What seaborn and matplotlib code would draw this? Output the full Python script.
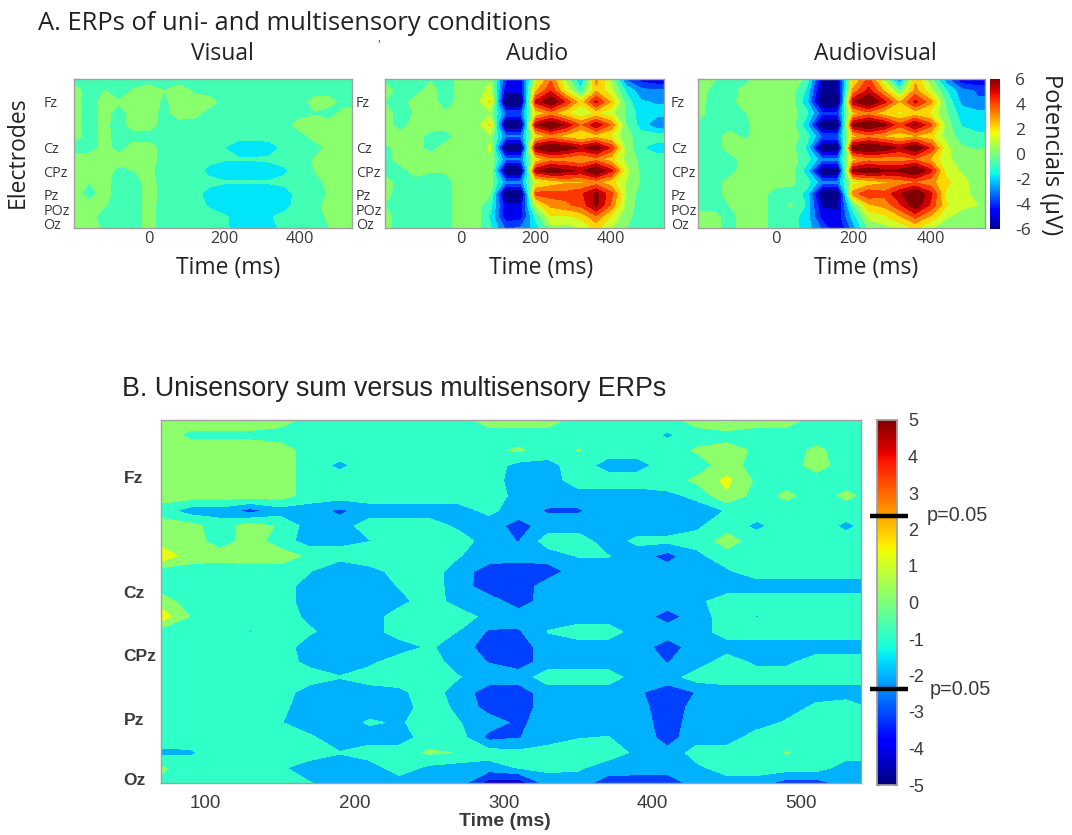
import numpy as np
import pandas as pd
import matplotlib
matplotlib.use("Agg")
import matplotlib.pyplot as plt
import seaborn as sns

W, H = 1072, 835
TIMES_A = [-200,-160,-120,-80,-40,0,40,80,120,160,200,240,280,320,360,400,440,480,520,560]
TICKS_A = [0, 200, 400]
ELECTRODES_A = ["Fz", "Cz", "CPz", "Pz", "POz", "Oz"]
ELECTRODE_ROWS_A = [2.0, 5.95, 8.1, 10.1, 11.4, 12.65]

visual = [
 [-.8,-.8,-.5,-.8,-.8,-.8,-.8,-.8,-.8,-.8,-.8,-.8,-.8,-.8,-.8,-.8,-.8,-.9,-1,-1],
 [.2,-.8,-.3,-.8,-.2,.2,-.3,.2,-.5,-.8,-.8,-.8,-.8,-.8,-.8,-.8,-.8,-.8,-.8,-.8],
 [.1,-.8,.1,-.2,.2,.2,-.5,.2,.2,.2,-.8,-.8,-.8,-.8,-.8,-.8,.1,.1,-.8,-.8],
 [.2,-.8,.1,-.8,.2,.2,-.7,.2,.1,-.8,-.8,-.8,-.8,-.8,-.8,-.8,-.4,-.8,.2,.2],
 [.1,-.8,.0,-.8,.2,.2,-.8,-.8,-.8,-.8,-.8,-.8,-.8,-.8,-.8,.2,.2,.2,.2,.2],
 [.2,-.8,.1,-.8,-.8,-.8,-.8,-.8,-.8,-.8,-.9,-1.0,-1.0,-.9,-.8,-.8,.1,.2,.2,.2],
 [-.8,-.8,.1,-.7,.2,.2,-.8,-.8,-.8,-.9,-1.3,-1.9,-1.9,-1.8,-1,-.8,-.8,.0,.2,.2],
 [.2,.2,.1,.1,.2,.1,-.7,-.8,-.8,-1,-1.2,-1.2,-1.2,-1.1,-.9,-.8,-.2,.2,.2,.2],
 [.2,.2,.1,-.6,-.3,-.1,-.7,-.8,-.8,-1.6,-1.9,-1.9,-1.9,-1.9,-1.5,-.8,-.3,.2,.2,.2],
 [.2,-.3,.1,-.8,-.8,.1,-.8,-.8,-.8,-1,-1.2,-1.2,-1.2,-1.2,-1,-.8,-.8,.1,.2,.2],
 [.2,-.8,.1,-.8,-.8,.1,-.7,-.8,-.9,-1.7,-1.9,-1.9,-1.9,-1.9,-1.8,-.9,-.8,-.2,-.1,-.1],
 [.2,.1,-.2,-.8,-.8,.1,-.8,-.8,-1,-1.4,-1.9,-1.9,-1.9,-1.9,-1.7,-.8,-.7,.2,.2,.2],
 [.2,.1,-.7,-.8,-.8,.1,-.8,-.8,-.8,-1,-1.2,-1.6,-1.7,-1.4,-1,-.8,-.7,-.1,.1,.1],
 [.2,.1,-.5,-.8,-.8,.1,-.8,-.8,-.8,-.9,-1.1,-1.7,-1.8,-1.7,-1.0,-.8,-.8,-.3,-.2,-.2],
]
audio = [
 [-.6,-.8,-.8,-.4,-.8,.0,.1,.5,-4.2,-4.8,1.0,3.5,.5,-2.5,3.0,.5,-3.5,-4.8,-5.2,-5.2],
 [.2,-.8,-.7,.1,-.8,.1,.2,1.0,-5,-5,2.5,4.5,1.5,-1,2.5,1,-1.5,-3,-3.2,-3.2],
 [-.3,-.8,.1,.2,-.8,.1,.2,1.9,-6.8,-6.8,5,6.8,4.5,2,5,2.5,-.8,-2.2,-2.4,-2.4],
 [.2,-.8,-.2,.2,-.2,.2,.2,.4,-3.5,-3.5,1.8,3,1.8,1,1.8,1,-.5,-1.8,-2,-2],
 [.2,-.8,.2,.2,.2,.2,.2,1.9,-6.8,-6.8,5.5,7,5.5,3.5,5.5,3.5,-.3,-1.8,-3,-3.4],
 [.2,.1,.2,-.7,-.8,.2,.2,.5,-3.2,-3.2,1.8,3,2.2,1.5,2.2,1.5,0,-.8,-.8,-.8],
 [-.6,.1,.2,-.7,.1,.2,.3,.8,-6.8,-6.8,6,7,6.5,5.5,6.5,4.5,.3,-1.2,-1.8,-1.8],
 [-.8,.2,.2,.2,.2,.2,.2,.6,-3.2,-3.2,1.8,3.2,3,2.5,3.2,2,.4,-.6,-.8,-.8],
 [-.8,-.8,.2,-.2,-.2,.2,.3,.6,-6.8,-6.8,5.5,6.5,6,5.5,7,5,1,-.6,-.9,-.9],
 [.2,-.8,-.8,-.8,-.8,.2,.2,.2,-3,-3,1.2,2,2.5,2.5,3,2,.6,-.4,-.4,-.4],
 [.1,-.8,-.8,-.8,-.8,.2,.2,-.2,-6.8,-6.8,4,4.2,4,4.5,6,4,.5,-.8,-1.2,-1.2],
 [-.3,-.8,-.8,-.8,-.8,.2,.2,-1,-5,-5,1,3,3.5,4,6,3.5,.3,-.8,-.8,-.8],
 [.1,-.8,-.8,-.8,-.8,.2,.2,-1.5,-5,-4.8,-1,1.5,1.5,2,3.5,1.5,0,-.8,-.8,-.8],
 [.1,-.8,-.8,-.8,-.8,.2,.2,-1.2,-3.5,-3.2,-1.8,.3,.3,.7,2,.7,-.3,-.8,-.8,-.8],
]
audiovisual = [
 [-.2,-.2,-.8,-.8,.2,.2,.2,-.5,-5.5,-5.5,1.5,4,.5,-3.5,2.5,0,-3,-5.2,-5.5,-5.5],
 [.2,-.6,-.8,.1,.2,.2,.2,-1.5,-6,-6,3,5,2.5,-.5,3,1,-1.2,-3,-3.4,-3.4],
 [.2,-.8,-.8,.2,.2,.2,.2,-2,-6.8,-6.8,5.5,7,5,2.5,5,3,-.5,-2.6,-3.2,-3.2],
 [.2,-.8,-.8,-.4,.2,.2,.2,-1,-4,-4,2.2,3.2,2,1.5,2,1.5,-.2,-1.8,-2,-2],
 [-.6,-.8,-.8,-.6,.2,.2,.2,-2,-6.8,-6.8,6,7,6,4,6,4,.2,-1.4,-1.8,-1.8],
 [-.7,-.8,.1,-.5,.1,.2,.2,-.8,-3.5,-3.5,2.2,3.2,2.5,2,2.5,2,.3,-.8,-1,-1],
 [-.8,-.8,.1,.2,.2,.2,.1,-1.5,-6.8,-6.8,6.5,7,6.5,5.5,6.8,4.5,1,-.2,-.4,-.2],
 [-.8,-.8,-.8,.1,.2,.2,.1,-.8,-3,-3,2.2,3.2,3,3,3.5,2.5,.9,.3,.1,.1],
 [-.8,-.8,-.8,.2,.2,.2,.1,-1.8,-6.8,-6.8,6,6.5,6,6,7,5,1.2,.6,.1,.1],
 [-.8,-.8,.1,.2,.2,.1,-.1,-.8,-3,-3,1.2,2,2.5,3,3.5,3,2,1,.3,.2],
 [-.8,-.8,.1,.2,.2,-.8,-.6,-1.6,-6.8,-6.8,3.2,4.5,4,5.5,7,5,1.5,.9,.5,.4],
 [-.8,-.8,-.3,.2,.2,-.8,-.2,-1.4,-5.5,-5.5,-.5,2.5,3,4.5,6.5,4.5,1.8,.9,.7,.6],
 [.1,.1,-.8,.2,.2,-.8,-.8,-1.8,-4.8,-5,-1.8,1,1.5,2.5,4,2.5,.8,.4,.2,.2],
 [.1,.1,-.8,.2,.2,-.8,-.8,-1.8,-3.5,-5.5,-2.8,0,.3,1,1.8,.8,.2,-.2,-.3,-.3],
]

TIMES_B = [70,90,110,130,150,170,190,210,230,250,270,290,310,330,350,370,390,410,430,450,470,490,510,530,550]
TICKS_B = [100, 200, 300, 400, 500]
ELECTRODES_B = ["Fz", "Cz", "CPz", "Pz", "Oz"]
ELECTRODE_ROWS_B = [3.77, 11.37, 15.54, 19.77, 23.75]
P_THRESHOLD = 2.37

sum_vs_multi = [
 [.2,.2,.2,.2,.2,-.9,-.9,-.9,-.9,-.9,-.9,.2,.2,.2,-.9,-.9,-.9,-.9,.2,1.0,.2,.2,-.9,-.9,-.9],
 [.2,-.6,-.6,-.6,-.9,-.9,-.9,-.9,-.9,-.9,-.9,-.9,-.9,-.9,-.9,-.9,-.9,-1.6,-.9,-.9,-.9,-.9,-.9,-.9,-.9],
 [.2,.2,.2,.2,.2,-.9,-.9,-.9,-.9,-.9,-.9,-.6,-.2,-.9,-.3,-.9,-.9,-.9,-.2,.2,-.6,-.9,-.1,-.9,.0],
 [.2,.2,.2,.2,.2,-.9,-1.7,-.9,-.9,-.9,-.9,-.9,-1.8,-1.8,-.9,-1.9,-1.9,-.9,-.9,.2,-.9,-.9,.1,-.9,-.9],
 [.2,.2,.2,.2,.2,-.9,-.9,-.9,-.9,-.9,-.9,-.9,-2,-2,-.9,-.9,-.9,-.9,-.1,1.0,-.6,-.9,-.9,-.9,-.9],
 [.2,.2,.2,.2,.2,-.9,-.9,-.9,-.9,-.9,-.9,-1.2,-1.6,-1.9,-2,-2,-2,-1.7,-1.2,.6,-.9,-.1,-.9,-.1,-.9],
 [-.9,-2,-2,-3,-2,-2,-2.8,-2,-2,-2,-1.9,-1.2,-2,-2.7,-2.7,-2,-2,-2,-1.9,-1.4,-.9,-.9,-.9,-.9,-.9],
 [.2,.0,-.9,.2,-.5,-2,-2,-.9,-.9,-.9,-1.7,-2,-3.0,-2,-2,-2,-2,-2,-1.6,-.9,-1.7,-.9,-.9,-1.7,-.9],
 [.2,.2,-.9,.2,-.9,-2,-1.8,-1.5,-1.2,-.9,-.9,-2,-2.6,-.9,-.9,-2,-1.2,-1.2,-1.1,.2,-.9,-.9,-.9,-.9,-.9],
 [1.5,.2,.2,.2,.2,-.6,-.9,-.4,-.9,-.9,-1.4,-2,-2,-2,-1.4,-1.4,-2,-3,-1.7,-.9,-.9,-.9,-.9,-.9,-.9],
 [-.9,-.9,-1.2,-.9,-.9,-1.4,-2.6,-2,-.9,-.9,-2,-3.1,-3.4,-3.1,-2,-2,-2,-2,-2,-1.6,-.9,-.9,-.9,-.9,-.9],
 [-.9,-.9,-.9,-.9,-.9,-2,-2,-2,-1.4,-.9,-2,-3.2,-3.2,-2,-2,-2,-2,-2,-2,-2,-2,-2,-2,-2,-2],
 [.2,-.9,-.9,-.8,-.9,-2,-2,-2,-1.8,-.9,-1.9,-2,-3.1,-2,-2,-2,-2,-2,-1.7,-.9,-.9,-.9,-.9,-.9,-.9],
 [1.4,-.4,-.9,-.9,-.9,-1.7,-2,-2,-.9,-.9,-.9,-1.8,-2,-2,-2,-2,-2,-3,-2,-.9,-1.5,-.9,-.9,-.9,-.9],
 [-.9,-.9,-.9,-1.5,-.9,-1.3,-2,-2,-.9,-.9,-1.5,-2.7,-2.7,-1.4,-.9,-.9,-2,-2,-2,-.9,-.9,-.9,-.9,-.9,-.9],
 [-.9,-.9,-.9,-.9,-.9,-2,-2,-2,-2,-1.3,-2,-3.1,-3.1,-2,-2,-2,-2,-3.1,-2,-2,-2,-2,-2,-2,-2],
 [-.5,-.9,-.9,-.9,-.9,-1.8,-2,-1.7,-.9,-.9,-2,-2.6,-3.1,-2,-2,-2,-2,-2.6,-2,-.9,-1.7,-1.7,-.9,-.9,-.9],
 [-.9,-.9,-1.4,-.9,-.9,-.9,-1.4,-.9,-.9,-.9,-1.4,-2,-2,-.9,-.9,-.9,-2,-2,-.9,-.9,-.9,-.9,-.9,-.9,-.9],
 [-.9,-.9,-.9,-.9,-.9,-2,-2,-2,-1.7,-.9,-2,-3.1,-3.1,-2,-2,-2,-2.4,-3.1,-2.5,-2,-2,-2,-2,-2,-2],
 [-.9,-.9,-.9,-.9,-1.2,-2,-2,-2,-2,-.9,-1.7,-3.0,-3.1,-2,-2,-2,-2.2,-3.1,-2.2,-2,-2,-2,-1.2,-.9,-1.7],
 [-.9,-.9,-.9,-.9,-1.4,-2,-2,-1.3,-1.6,-.9,-1.4,-2,-2.8,-2,-2,-2,-2,-3.1,-2,-2,-2,-1.3,-.9,-.9,-2],
 [-.9,-.9,-.9,-.9,-1.3,-1.3,-2,-2,-2,-.9,-.9,-2.9,-2.6,-2,-1.5,-1.4,-2,-2.9,-2,-2,-.9,-.9,-.9,-.9,-2],
 [-1.7,-1.6,-.9,-.5,-.9,-.9,-1.4,-.9,-.9,-.2,-.4,-.9,-1.2,-.9,-.9,-.9,-1.7,-2.3,-.9,-.9,-.9,-.3,-.9,-.9,-.9],
 [-.2,-.9,-.9,-.9,-1.3,-2,-2,-2,-.9,-1.7,-2,-2,-1.4,-1.2,-1.3,-2,-2,-2,-1.7,-.9,-.9,-.9,-.9,-2,-2],
 [-.5,-.9,-.9,-.9,-.9,-1.4,-2,-2,-2,-2,-2,-4.2,-4.4,-2,-2,-3.1,-3.2,-3.3,-2,-2,-2,-3.1,-3.1,-2,-3.1],
]


def box(x0, y0, x1, y1):
    return [x0 / W, 1 - y1 / H, (x1 - x0) / W, (y1 - y0) / H]


def draw(ax, values, times, cax, vmin, vmax, levels, x_end):
    """Heatmap base with filled contour bands of the same table over it."""
    table = pd.DataFrame(values, columns=times)
    sns.heatmap(table, ax=ax, cmap="jet", vmin=vmin, vmax=vmax, cbar=cax is not None,
                cbar_ax=cax, xticklabels=False, yticklabels=False)
    xs = np.arange(len(times)) + 0.5
    ys = np.arange(len(values)) + 0.5
    ax.contourf(xs, ys, table.values, levels=levels, cmap="jet", vmin=vmin, vmax=vmax,
                extend="both")
    ax.set_xlim(0.5, np.interp(x_end, times, xs))
    ax.set_ylim(ys[-1], ys[0])
    ax.set_xlabel("")
    ax.set_ylabel("")
    for s in ax.spines.values():
        s.set_visible(True)
        s.set_color("#a0a0a0")
        s.set_linewidth(1.0)
    return lambda t: np.interp(t, times, xs)


sns.set_theme(style="white")
plt.rcParams["font.family"] = ["Open Sans", "DejaVu Sans"]
fig = plt.figure(figsize=(W / 100, H / 100), dpi=100)
fig.patch.set_facecolor("white")

levels_a = np.arange(-7.3, 7.0, 1.0)
panels_a = [
    (visual, "Visual", box(74, 79, 352, 228), 222, 228, 22.0),
    (audio, "Audio", box(385, 79, 664, 228), 537, 541, 21.0),
    (audiovisual, "Audiovisual", box(698, 79, 985, 228), 875, 866, 19.5),
]
TXT = "#222222"
GREY = "#3a3a3a"
cax_a = fig.add_axes(box(990, 79, 1000, 229))
for i, (vals, name, pos, tx, lx, ypad) in enumerate(panels_a):
    ax = fig.add_axes(pos)
    to_x = draw(ax, vals, TIMES_A, cax_a if i == 2 else None, -6, 6, levels_a, 540)
    ax.set_xticks(to_x(TICKS_A))
    ax.set_xticklabels(TICKS_A, fontsize=11.8, color=GREY)
    ax.set_yticks(np.array(ELECTRODE_ROWS_A) + 0.5)
    ax.set_yticklabels(ELECTRODES_A, fontsize=10.4, color=GREY, ha="left")
    ax.tick_params(axis="x", length=0, pad=2)
    ax.tick_params(axis="y", length=0, pad=ypad)
    fig.text(tx / W, 1 - 54 / H, name, fontsize=16.5, color=TXT, ha="center", va="center")
    fig.text(lx / W, 1 - 268 / H, "Time (ms)", fontsize=16.5, color=TXT,
             ha="center", va="center")
cax_a.set_yticks(range(-6, 7, 2))
cax_a.set_yticklabels(range(-6, 7, 2), fontsize=12.5, color=GREY)
cax_a.tick_params(axis="y", length=0, pad=11)
for s in cax_a.spines.values():
    s.set_visible(False)

fig.text(38 / W, 1 - 23 / H, "A. ERPs of uni- and multisensory conditions", fontsize=18.4,
         color=TXT, ha="left", va="center")
fig.text(378 / W, 1 - 45 / H, "'", fontsize=8, color=TXT, ha="center", va="center")
fig.text(18 / W, 1 - 152 / H, "Electrodes", fontsize=16.5, color=TXT, rotation=90,
         ha="center", va="center")
fig.text(1051 / W, 1 - 155 / H, "Potencials (µV)", fontsize=17, color=TXT, rotation=270,
         ha="center", va="center")

# Panel B
levels_b = np.arange(-5.85, 3.0, 1.1)
ax_b = fig.add_axes(box(161, 420, 861, 783))
cax_b = fig.add_axes(box(877, 420, 897, 785))
to_x = draw(ax_b, sum_vs_multi, TIMES_B, cax_b, -5, 5, levels_b, 540)
ax_b.set_xticks(to_x(TICKS_B))
ax_b.set_xticklabels(TICKS_B, fontsize=13.5, color=GREY, family="Liberation Sans")
ax_b.set_yticks(np.array(ELECTRODE_ROWS_B) + 0.5)
ax_b.set_yticklabels(ELECTRODES_B, fontsize=12.5, color=GREY, fontweight="bold",
                     family="Liberation Sans", ha="left")
ax_b.tick_params(axis="both", direction="in", length=3, width=0.8, color="#555555",
                 top=True, right=True, bottom=True, left=True)
ax_b.tick_params(axis="x", pad=9)
ax_b.tick_params(axis="y", pad=27)

cax_b.set_yticks(range(-5, 6))
cax_b.set_yticklabels(range(-5, 6), fontsize=13, color=GREY, family="Liberation Sans")
cax_b.tick_params(axis="y", direction="in", length=2, width=0.8, color="#444444", pad=8,
                  left=True, right=True)
for s in cax_b.spines.values():
    s.set_visible(True)
    s.set_color("#a0a0a0")

for sign, lx in ((1, 2.5), (-1, 2.65)):
    cax_b.plot([-0.36, 1.55], [sign * P_THRESHOLD] * 2, color="black", lw=3.2,
               clip_on=False, transform=cax_b.get_yaxis_transform(), solid_capstyle="butt",
               zorder=5)
    cax_b.text(lx, sign * P_THRESHOLD, "p=0.05", fontsize=14.3, color=GREY, va="center",
               transform=cax_b.get_yaxis_transform(), family="Liberation Sans")

fig.text(122 / W, 1 - 389 / H, "B. Unisensory sum versus multisensory ERPs", fontsize=19.3,
         color=TXT, family="Liberation Sans", ha="left", va="center")
fig.text(505 / W, 1 - 822 / H, "Time (ms)", fontsize=14, color=GREY, fontweight="bold",
         family="Liberation Sans", ha="center", va="center")

fig.savefig("out.png", dpi=100)
